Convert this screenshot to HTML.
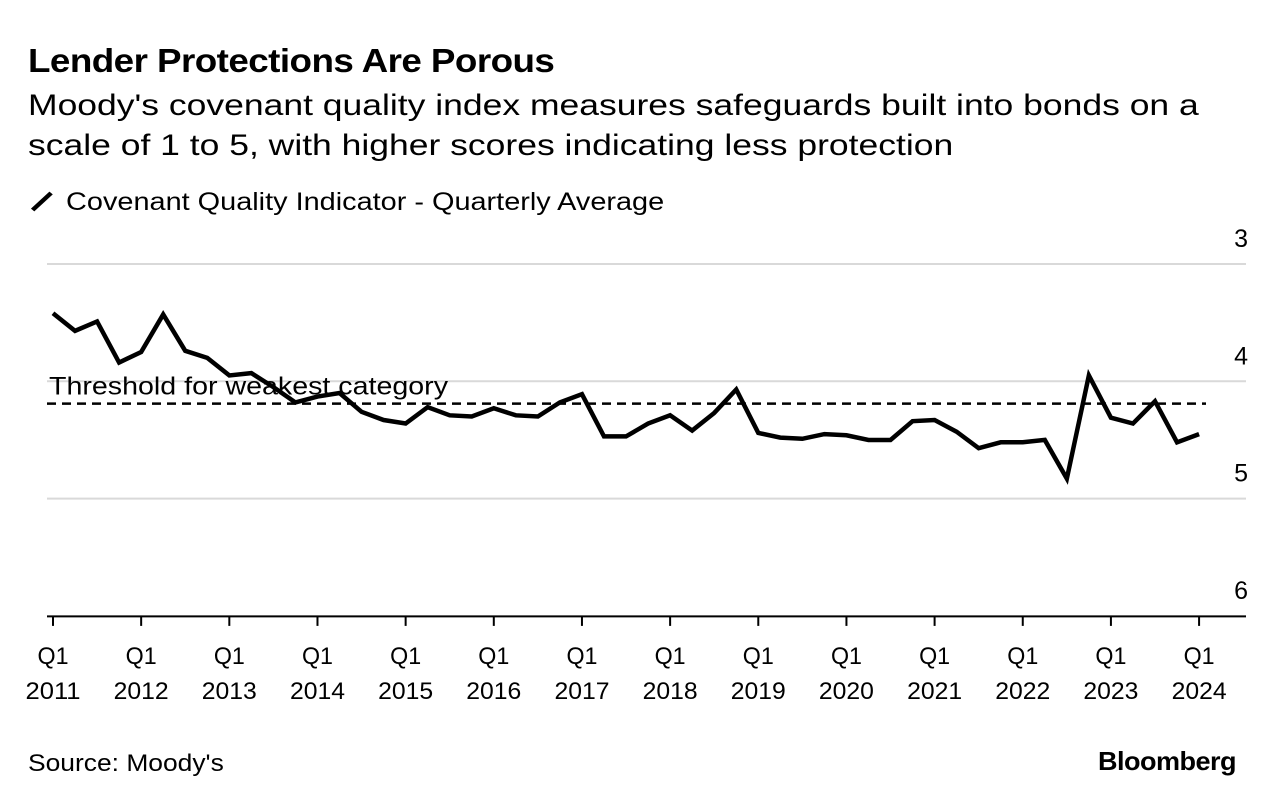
<!DOCTYPE html>
<html><head><meta charset="utf-8"><style>
body{margin:0;background:#fff;font-family:"Liberation Sans",sans-serif;color:#000}
#wrap{position:relative;width:1276px;height:804px;overflow:hidden}
.t{position:absolute;white-space:nowrap;transform-origin:left top;transform:scaleX(1.11)}
</style></head><body><div id="wrap">
<div class="t" style="left:28px;top:42px;font-size:33px;font-weight:bold;letter-spacing:-0.5px;transform:scaleX(1.115)">Lender Protections Are Porous</div>
<div class="t" style="left:28px;top:86px;font-size:30px;line-height:40px;transform:scaleX(1.183)">Moody's covenant quality index measures safeguards built into bonds on a<br>scale of 1 to 5, with higher scores indicating less protection</div>
<div class="t" style="left:28px;top:188px;font-size:25px;transform:scaleX(1.155)"><svg width="26" height="24" style="vertical-align:-3px"><line x1="4" y1="21" x2="20" y2="4" stroke="#000" stroke-width="4"/></svg> Covenant Quality Indicator - Quarterly Average</div>
<svg id="chart" width="1276" height="804" style="position:absolute;left:0;top:0"></svg>
<div class="t" style="left:28px;top:750px;font-size:24px;transform:scaleX(1.1)">Source: Moody's</div>
<div class="t" style="left:1098px;top:746px;font-size:26px;font-weight:bold;letter-spacing:-0.5px;transform:scaleX(1.04)">Bloomberg</div>
</div>
<script>
const yTicks=[3,4,5,6];
const yearLabels=["2011","2012","2013","2014","2015","2016","2017","2018","2019","2020","2021","2022","2023","2024"];
const values=[3.42,3.57,3.49,3.84,3.75,3.43,3.74,3.80,3.95,3.93,4.05,4.18,4.13,4.10,4.26,4.33,4.36,4.22,4.29,4.30,4.23,4.29,4.30,4.18,4.11,4.47,4.47,4.36,4.29,4.42,4.27,4.07,4.44,4.48,4.49,4.45,4.46,4.50,4.50,4.34,4.33,4.43,4.57,4.52,4.52,4.50,4.83,3.95,4.31,4.36,4.17,4.52,4.45];
const threshold=4.19;
const NS="http://www.w3.org/2000/svg";
const svg=document.getElementById('chart');
const y=v=>264+(v-3)*117.3;
const x=i=>53+i*22.04;
function mk(t,a){const e=document.createElementNS(NS,t);for(const k in a)e.setAttribute(k,a[k]);svg.appendChild(e);return e;}
const FF='Liberation Sans, sans-serif';
yTicks.forEach(t=>{
  if(t<6){const g=mk('line',{x1:47,x2:1246,y1:y(t),y2:y(t),stroke:'#d9d9d9','stroke-width':2});
  
  }
  const l=mk('text',{x:1248,y:y(t)-17,'text-anchor':'end','font-size':25,'font-family':FF});
  l.textContent=t;
  
  
});
const ax=mk('line',{x1:47,x2:1246,y1:y(6)+0.5,y2:y(6)+0.5,stroke:'#000','stroke-width':2});


yearLabels.forEach((yr,k)=>{
  const px=x(k*4);
  const tk=mk('line',{x1:px,x2:px,y1:y(6),y2:y(6)+10,stroke:'#000','stroke-width':2});
  
  
  const t=mk('text',{x:px,y:664,'text-anchor':'middle','font-size':24,'font-family':FF,textLength:31,lengthAdjust:'spacingAndGlyphs'});
  t.textContent='Q1';
  
  
  const t2=mk('text',{x:px,y:699,'text-anchor':'middle','font-size':24,'font-family':FF,textLength:55,lengthAdjust:'spacingAndGlyphs'});
  t2.textContent=yr;
  
  
});
const th=mk('line',{x1:47,x2:1206,y1:y(threshold),y2:y(threshold),stroke:'#000','stroke-width':2.5,'stroke-dasharray':'9,6'});


const tl=mk('text',{x:49,y:y(threshold)-9,'font-size':25,'font-family':FF,textLength:399,lengthAdjust:'spacingAndGlyphs'});
tl.textContent='Threshold for weakest category';


const p=mk('polyline',{points:values.map((v,i)=>x(i)+','+y(v)).join(' '),fill:'none',stroke:'#000','stroke-width':4.5,'stroke-linejoin':'miter'});


</script></body></html>
